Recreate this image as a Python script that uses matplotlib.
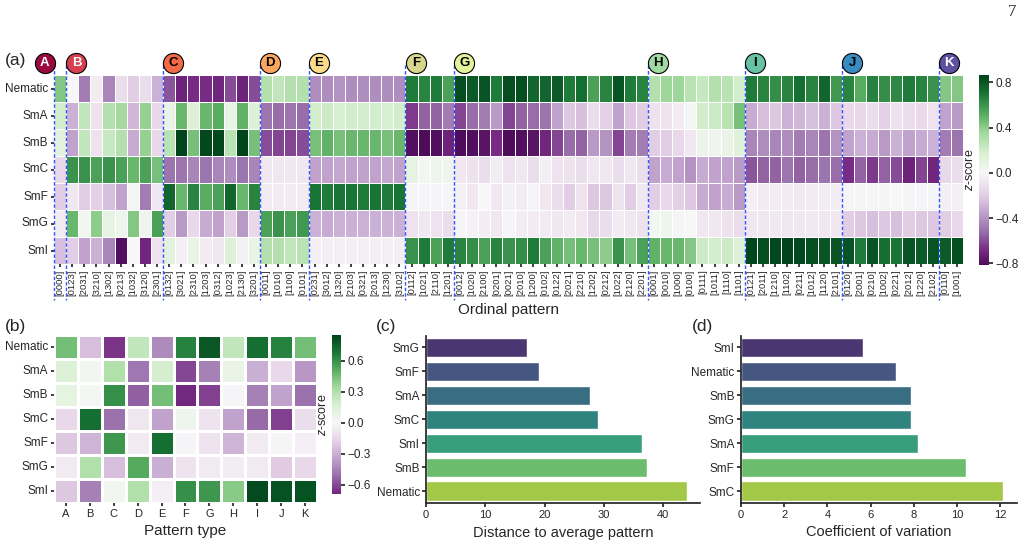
import numpy as np
import pandas as pd
import matplotlib
matplotlib.use("Agg")
import matplotlib.pyplot as plt
import seaborn as sns

sns.set_theme(style="ticks")
plt.rcParams["font.family"] = ["Liberation Sans", "DejaVu Sans"]
plt.rcParams["mathtext.fontset"] = "custom"
plt.rcParams["mathtext.it"] = "Liberation Sans:italic"
plt.rcParams["mathtext.rm"] = "Liberation Sans"

phases = ["Nematic", "SmA", "SmB", "SmC", "SmF", "SmG", "SmI"]
group_names = ["A", "B", "C", "D", "E", "F", "G", "H", "I", "J", "K"]
group_colors = ["#9b0a3f", "#d8404f", "#ef6a45", "#fba65e", "#fbdc8a", "#d8d68c",
                "#e4f29a", "#9fd8a0", "#66c2a5", "#3a8cc0", "#5e50a3"]
group_text = ["white", "white", "black", "black", "black", "black",
              "black", "black", "black", "black", "white"]
group_patterns = [
    ["0000"],
    ["0123", "2031", "3210", "1302", "0213", "1032", "3120", "2301"],
    ["0132", "3021", "2310", "1203", "0312", "1023", "2130", "3201"],
    ["0011", "1010", "1100", "0101"],
    ["0231", "3012", "1320", "2103", "0321", "2013", "1230", "3102"],
    ["0112", "1021", "2110", "1201"],
    ["0012", "1020", "2100", "0201", "0021", "2010", "1200", "0102",
     "0122", "2021", "2210", "1202", "0212", "1022", "2120", "2201"],
    ["0001", "0010", "1000", "0100", "0111", "1011", "1110", "1101"],
    ["0121", "2011", "1210", "1102", "0211", "1012", "1120", "2101"],
    ["0120", "2001", "0210", "1002", "0221", "2012", "1220", "2102"],
    ["0110", "1001"],
]

# z-scores per ordinal pattern (panel a), one list per phase
z_nematic = [0.42,
             0.0, -0.48, -0.06, -0.45, -0.12, -0.2, -0.12, -0.3,
             -0.58, -0.72, -0.68, -0.68, -0.7, -0.6, -0.72, -0.6,
             0.3, 0.25, 0.3, 0.3,
             -0.42, -0.42, -0.4, -0.42, -0.42, -0.42, -0.42, -0.42,
             0.68, 0.65, 0.68, 0.55,
             0.82, 0.78, 0.8, 0.68, 0.82, 0.82, 0.75, 0.75, 0.78, 0.68, 0.72, 0.55, 0.65, 0.8, 0.68, 0.65,
             0.3, 0.36, 0.36, 0.28, 0.24, 0.3, 0.28, 0.2,
             0.68, 0.65, 0.62, 0.65, 0.72, 0.65, 0.75, 0.58,
             0.65, 0.52, 0.66, 0.62, 0.64, 0.68, 0.65, 0.6,
             0.42, 0.42]
z_sma = [0.2,
         -0.3, 0.25, -0.1, 0.3, 0.35, -0.28, 0.38, -0.15,
         0.08, 0.48, 0.15, 0.48, 0.52, 0.08, 0.5, 0.15,
         -0.5, -0.52, -0.5, -0.52,
         0.2, 0.22, 0.18, 0.2, 0.2, 0.2, 0.18, 0.2,
         -0.65, -0.55, -0.55, -0.48,
         -0.62, -0.52, -0.48, -0.38, -0.62, -0.55, -0.52, -0.5, -0.35, -0.22, -0.25, -0.12, -0.18, -0.35, -0.22, -0.2,
         -0.1, -0.1, -0.06, 0.02, 0.2, 0.22, 0.28, 0.45,
         -0.32, -0.25, -0.22, -0.3, -0.28, -0.25, -0.3, -0.22,
         -0.15, -0.15, -0.12, -0.18, -0.1, -0.12, -0.14, -0.1,
         -0.35, -0.38]
z_smb = [0.12,
         -0.35, 0.25, -0.1, 0.23, 0.3, -0.32, 0.38, -0.15,
         0.28, 0.86, 0.45, 0.84, 0.84, 0.28, 0.86, 0.45,
         -0.6, -0.62, -0.62, -0.6,
         0.45, 0.5, 0.45, 0.48, 0.48, 0.48, 0.45, 0.48,
         -0.8, -0.81, -0.8, -0.72,
         -0.81, -0.8, -0.78, -0.68, -0.81, -0.8, -0.78, -0.7, -0.62, -0.52, -0.55, -0.38, -0.4, -0.62, -0.48, -0.48,
         -0.2, -0.2, -0.15, -0.08, 0.06, 0.04, 0.08, 0.14,
         -0.45, -0.42, -0.45, -0.42, -0.48, -0.45, -0.5, -0.4,
         -0.35, -0.3, -0.32, -0.38, -0.3, -0.35, -0.32, -0.3,
         -0.48, -0.5]
z_smc = [-0.15,
         0.6, 0.6, 0.55, 0.6, 0.55, 0.48, 0.55, 0.45,
         -0.5, -0.5, -0.45, -0.5, -0.45, -0.42, -0.5, -0.45,
         -0.08, -0.08, -0.08, -0.08,
         -0.35, -0.35, -0.33, -0.35, -0.35, -0.35, -0.33, -0.35,
         0.1, 0.02, 0.05, 0.04,
         -0.08, -0.1, -0.12, -0.05, -0.1, -0.08, -0.12, -0.04, -0.1, -0.1, -0.12, -0.08, -0.08, -0.12, -0.08, -0.12,
         -0.35, -0.32, -0.35, -0.4, -0.32, -0.35, -0.35, -0.38,
         -0.58, -0.55, -0.55, -0.5, -0.55, -0.52, -0.5, -0.52,
         -0.68, -0.55, -0.65, -0.55, -0.6, -0.72, -0.62, -0.7,
         -0.15, -0.12]
z_smf = [-0.2,
         -0.08, -0.2, -0.18, -0.25, -0.35, 0.02, -0.48, -0.08,
         0.75, 0.48, 0.65, 0.52, 0.55, 0.75, 0.48, 0.65,
         -0.06, -0.06, -0.06, -0.06,
         0.7, 0.68, 0.7, 0.7, 0.68, 0.7, 0.68, 0.7,
         -0.02, -0.02, -0.02, -0.02,
         -0.03, -0.08, 0.0, -0.08, -0.03, -0.05, -0.02, -0.08, -0.12, -0.2, -0.1, -0.22, -0.22, -0.1, -0.2, -0.08,
         -0.2, -0.15, -0.18, -0.22, -0.32, -0.35, -0.32, -0.38,
         -0.04, -0.06, -0.06, -0.06, -0.07, -0.06, -0.05, -0.05,
         -0.01, -0.01, 0.02, 0.02, 0.0, -0.02, -0.02, -0.02,
         -0.04, -0.04]
z_smg = [-0.06,
         0.48, 0.03, 0.4, 0.1, 0.05, 0.42, 0.04, 0.55,
         -0.2, -0.38, -0.15, -0.32, -0.35, -0.18, -0.38, -0.15,
         0.55, 0.6, 0.55, 0.58,
         -0.3, -0.32, -0.3, -0.3, -0.3, -0.3, -0.3, -0.3,
         -0.1, -0.08, -0.1, -0.12,
         -0.02, -0.03, -0.05, -0.08, -0.02, -0.05, -0.06, -0.06, -0.08, -0.06, -0.08, -0.15, -0.12, -0.06, -0.08, -0.1,
         0.03, 0.05, 0.02, 0.0, -0.08, -0.08, -0.1, -0.12,
         -0.08, -0.08, -0.07, -0.08, -0.08, -0.07, -0.08, -0.08,
         -0.2, -0.22, -0.25, -0.22, -0.25, -0.2, -0.22, -0.22,
         -0.2, -0.15]
z_smi = [-0.25,
         -0.2, -0.35, -0.3, -0.45, -0.8, 0.0, -0.7, -0.1,
         0.12, -0.04, 0.08, -0.06, -0.08, 0.15, -0.03, 0.08,
         0.3, 0.3, 0.25, 0.28,
         -0.04, -0.04, -0.04, -0.04, -0.04, -0.04, -0.04, -0.04,
         0.6, 0.68, 0.55, 0.68,
         0.65, 0.62, 0.55, 0.65, 0.6, 0.62, 0.68, 0.55, 0.5, 0.45, 0.48, 0.45, 0.4, 0.6, 0.45, 0.55,
         0.5, 0.48, 0.48, 0.42, 0.22, 0.2, 0.22, 0.15,
         0.85, 0.82, 0.84, 0.86, 0.84, 0.82, 0.8, 0.8,
         0.8, 0.68, 0.8, 0.72, 0.7, 0.8, 0.78, 0.8,
         0.78, 0.82]

# panel b: z-score per pattern type
zb_nematic = [0.45, -0.25, -0.65, 0.25, -0.42, 0.65, 0.78, 0.25, 0.7, 0.65, 0.45]
zb_sma = [0.15, 0.03, 0.3, -0.48, 0.18, -0.6, -0.45, 0.08, -0.3, -0.15, -0.38]
zb_smb = [0.1, 0.02, 0.6, -0.55, 0.45, -0.69, -0.62, -0.02, -0.45, -0.35, -0.5]
zb_smc = [-0.15, 0.7, -0.5, -0.08, -0.35, 0.05, -0.1, -0.35, -0.52, -0.62, -0.12]
zb_smf = [-0.22, -0.28, 0.58, -0.06, 0.7, -0.02, -0.1, -0.28, -0.06, -0.01, -0.04]
zb_smg = [-0.06, 0.3, -0.25, 0.52, -0.3, -0.1, -0.06, -0.05, -0.06, -0.2, -0.15]
zb_smi = [-0.22, -0.45, 0.03, 0.3, -0.04, 0.6, 0.58, 0.4, 0.82, 0.8, 0.8]

# panel c / d
dist_phases = ["SmG", "SmF", "SmA", "SmC", "SmI", "SmB", "Nematic"]
dist_values = [17.0, 19.0, 27.7, 29.0, 36.5, 37.2, 44.0]
cv_phases = ["SmI", "Nematic", "SmB", "SmG", "SmA", "SmF", "SmC"]
cv_values = [5.65, 7.2, 7.85, 7.87, 8.2, 10.4, 12.15]

patterns = ["[" + p + "]" for g in group_patterns for p in g]
za = pd.DataFrame([z_nematic, z_sma, z_smb, z_smc, z_smf, z_smg, z_smi],
                  index=phases, columns=patterns)
zb = pd.DataFrame([zb_nematic, zb_sma, zb_smb, zb_smc, zb_smf, zb_smg, zb_smi],
                  index=phases, columns=group_names)

W, H = 1028, 544
fig = plt.figure(figsize=(W / 100, H / 100), dpi=100)
def box(x, y, w, h):
    return [x / W, 1 - (y + h) / H, w / W, h / H]

def style_cbar(cax, ticks):
    cax.set_yticks(ticks)
    cax.tick_params(labelsize=8.5, length=3, pad=2)
    cax.yaxis.set_label_position("left")
    cax.set_ylabel("$z$-score", fontsize=9, labelpad=2)

# ---- (a) ----
ax_a = fig.add_axes(box(54, 75, 909, 189))
cax_a = fig.add_axes(box(979, 75, 10, 190))
sns.heatmap(za, ax=ax_a, cbar_ax=cax_a, cmap="PRGn", center=0, vmin=-0.815, vmax=0.865,
            linewidths=0.6, linecolor="white", xticklabels=patterns, yticklabels=phases)
ax_a.set_xlabel("Ordinal pattern", fontsize=11, labelpad=5)
ax_a.set_ylabel("")
ax_a.tick_params(axis="x", labelsize=6.8, rotation=90, length=2.5, pad=1.5)
ax_a.tick_params(axis="y", labelsize=8.5, rotation=0, length=2.5, pad=1.5)
style_cbar(cax_a, [-0.8, -0.4, 0.0, 0.4, 0.8])

starts = np.cumsum([0] + [len(g) for g in group_patterns[:-1]])
for k, s in enumerate(starts):
    ax_a.plot([s, s], [-0.37, 8.35], color="#3355ff", ls=(0, (2.5, 1.5)), lw=1.0,
              clip_on=False, zorder=5)
    cx = s - 0.77 if k == 0 else s + 0.85
    ax_a.scatter([cx], [-0.46], s=210, color=group_colors[k], edgecolor="black",
                 linewidth=0.8, clip_on=False, zorder=6)
    ax_a.text(cx, -0.44, group_names[k], ha="center", va="center", fontsize=9.5,
              fontweight="bold", color=group_text[k], zorder=7)

# ---- (b) ----
ax_b = fig.add_axes(box(54, 335, 263, 168))
cax_b = fig.add_axes(box(332, 335, 9, 159))
sns.heatmap(zb, ax=ax_b, cbar_ax=cax_b, cmap="PRGn", center=0, vmin=-0.69, vmax=0.85,
            linewidths=0.8, linecolor="white")
ax_b.set_xlabel("Pattern type", fontsize=11)
ax_b.set_ylabel("")
ax_b.tick_params(axis="x", labelsize=8, rotation=0, length=2.5, pad=1.5)
ax_b.tick_params(axis="y", labelsize=8.5, rotation=0, length=2.5, pad=1.5)
style_cbar(cax_b, [-0.6, -0.3, 0.0, 0.3, 0.6])

# ---- (c) ----
ax_c = fig.add_axes(box(426, 335.5, 274, 167.5))
sns.barplot(x=dist_values, y=dist_phases, hue=dist_phases, palette="viridis",
            legend=False, ax=ax_c)
ax_c.set_xlim(0, 46.2)
ax_c.set_xticks([0, 10, 20, 30, 40])
ax_c.set_xlabel("Distance to average pattern", fontsize=10.5)
ax_c.tick_params(axis="x", labelsize=8, length=3, pad=2)
ax_c.tick_params(axis="y", labelsize=8.5, length=3, pad=1.5)
sns.despine(ax=ax_c)

# ---- (d) ----
ax_d = fig.add_axes(box(741, 335.5, 276, 167.5))
sns.barplot(x=cv_values, y=cv_phases, hue=cv_phases, palette="viridis",
            legend=False, ax=ax_d)
ax_d.set_xlim(0, 12.78)
ax_d.set_xticks([0, 2, 4, 6, 8, 10, 12])
ax_d.set_xlabel("Coefficient of variation", fontsize=10.5)
ax_d.tick_params(axis="x", labelsize=8, length=3, pad=2)
ax_d.tick_params(axis="y", labelsize=8.5, length=3, pad=1.5)
sns.despine(ax=ax_d)

for lbl, x, y in [("(a)", 5, 60), ("(b)", 5, 326), ("(c)", 376, 326), ("(d)", 692, 326)]:
    fig.text(x / W, 1 - y / H, lbl, fontsize=12.5, ha="left", va="center")
fig.text(1012 / W, 1 - 12 / H, "7", fontsize=12, family="Liberation Serif",
         ha="center", va="center")

fig.savefig("out.png", dpi=100)
